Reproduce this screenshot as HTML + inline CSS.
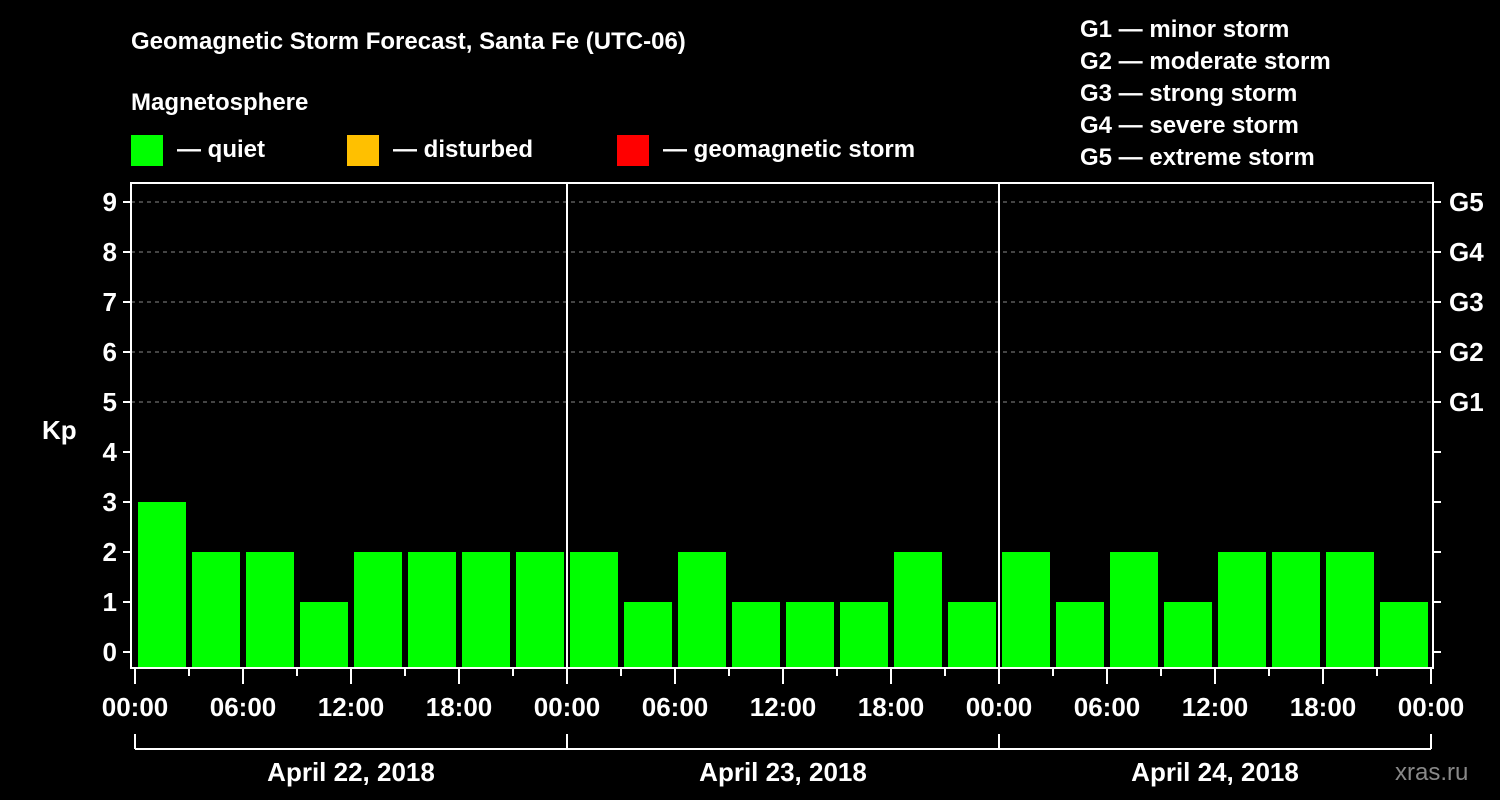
<!DOCTYPE html>
<html><head><meta charset="utf-8"><style>
html,body{margin:0;padding:0;background:#000;}
svg{display:block;font-family:"Liberation Sans",Arial,sans-serif;font-weight:bold;}
</style></head><body>
<svg id="chart" width="1500" height="800">
<rect x="0" y="0" width="1500" height="800" fill="#000"/>
<text x="131" y="49" fill="#fff" font-size="24">Geomagnetic Storm Forecast, Santa Fe (UTC-06)</text>
<text x="131" y="110" fill="#fff" font-size="24">Magnetosphere</text>
<g><rect x="131" y="135" width="32" height="31" fill="#00ff00"/><text x="177" y="157" fill="#fff" font-size="24">— quiet</text></g>
<g><rect x="347" y="135" width="32" height="31" fill="#ffc000"/><text x="393" y="157" fill="#fff" font-size="24">— disturbed</text></g>
<g><rect x="617" y="135" width="32" height="31" fill="#ff0000"/><text x="663" y="157" fill="#fff" font-size="24">— geomagnetic storm</text></g>
<g font-size="24" fill="#fff">
<text x="1080" y="37">G1 — minor storm</text>
<text x="1080" y="69">G2 — moderate storm</text>
<text x="1080" y="101">G3 — strong storm</text>
<text x="1080" y="133">G4 — severe storm</text>
<text x="1080" y="165">G5 — extreme storm</text>
</g>
<text x="42" y="439" fill="#fff" font-size="26">Kp</text>
<text x="1395" y="780" fill="#888" font-size="24" font-weight="normal">xras.ru</text>
<g id="plot"></g>
</svg>
<script>
const kpValues = [3,2,2,1,2,2,2,2, 2,1,2,1,1,1,2,1, 2,1,2,1,2,2,2,1];
const dayLabels = ["April 22, 2018","April 23, 2018","April 24, 2018"];
const timeLabels = ["00:00","06:00","12:00","18:00"];
const yTicks = [0,1,2,3,4,5,6,7,8,9];
const gLabels = [[5,"G1"],[6,"G2"],[7,"G3"],[8,"G4"],[9,"G5"]];
const colorFor = v => v >= 5 ? "#ff0000" : (v >= 4 ? "#ffc000" : "#00ff00");

const X0=135, PXH=18, Y0=652, PXK=50, TOP=183, BOT=668, LEFT=131, RIGHT=1433;
const xs = h => X0 + h*PXH;
const ys = k => Y0 - k*PXK;
const NS="http://www.w3.org/2000/svg";
const g=document.getElementById('plot');
function mk(tag, attrs, parent){const e=document.createElementNS(NS,tag);for(const k in attrs)e.setAttribute(k,attrs[k]);(parent||g).appendChild(e);return e;}

// grid
for(const k of yTicks){ if(k>=5){ const l=mk('line',{x1:LEFT,x2:RIGHT,y1:ys(k),y2:ys(k),stroke:'#888','stroke-dasharray':'4,4','stroke-width':1});

}}
// bars
kpValues.forEach((v,i)=>{
 const b=mk('rect',{x:xs(i*3)+3,y:ys(v),width:3*PXH-6,height:BOT-ys(v),fill:colorFor(v)});
 
 
});
// day separators
for(let d=1;d<dayLabels.length;d++){const l=mk('line',{x1:xs(d*24),x2:xs(d*24),y1:TOP,y2:BOT,stroke:'#fff','stroke-width':2});

}
// frame
const fr=mk('rect',{x:LEFT,y:TOP,width:RIGHT-LEFT,height:BOT-TOP,fill:'none',stroke:'#fff','stroke-width':2});


// y ticks
for(const k of yTicks){
 mk('line',{x1:LEFT-8,x2:LEFT,y1:ys(k),y2:ys(k),stroke:'#fff','stroke-width':2});
 mk('line',{x1:RIGHT,x2:RIGHT+8,y1:ys(k),y2:ys(k),stroke:'#fff','stroke-width':2});
 const t=mk('text',{x:LEFT-14,y:ys(k)+9,fill:'#fff','font-size':26,'text-anchor':'end'});
 t.textContent=k;
 
 
}
for(const [k,lab] of gLabels){
 const t=mk('text',{x:RIGHT+16,y:ys(k)+9,fill:'#fff','font-size':26});
 t.textContent=lab;
 
 
}
// x ticks
for(let h=0;h<=72;h+=3){
 const major=h%6===0;
 mk('line',{x1:xs(h),x2:xs(h),y1:BOT,y2:BOT+(major?16:8),stroke:'#fff','stroke-width':2});
}
for(let h=0;h<=72;h+=6){
 const t=mk('text',{x:xs(h),y:716,fill:'#fff','font-size':26,'text-anchor':'middle'});
 t.textContent=timeLabels[(h/6)%4];
 
 
}
// day brackets
mk('line',{x1:xs(0),x2:xs(72),y1:749,y2:749,stroke:'#fff','stroke-width':2});
for(let d=0;d<=dayLabels.length;d++) mk('line',{x1:xs(d*24),x2:xs(d*24),y1:734,y2:749,stroke:'#fff','stroke-width':2});
dayLabels.forEach((lab,d)=>{
 const t=mk('text',{x:xs(d*24+12),y:781,fill:'#fff','font-size':26,'text-anchor':'middle'});
 t.textContent=lab;
 
 
});
</script>
</body></html>
